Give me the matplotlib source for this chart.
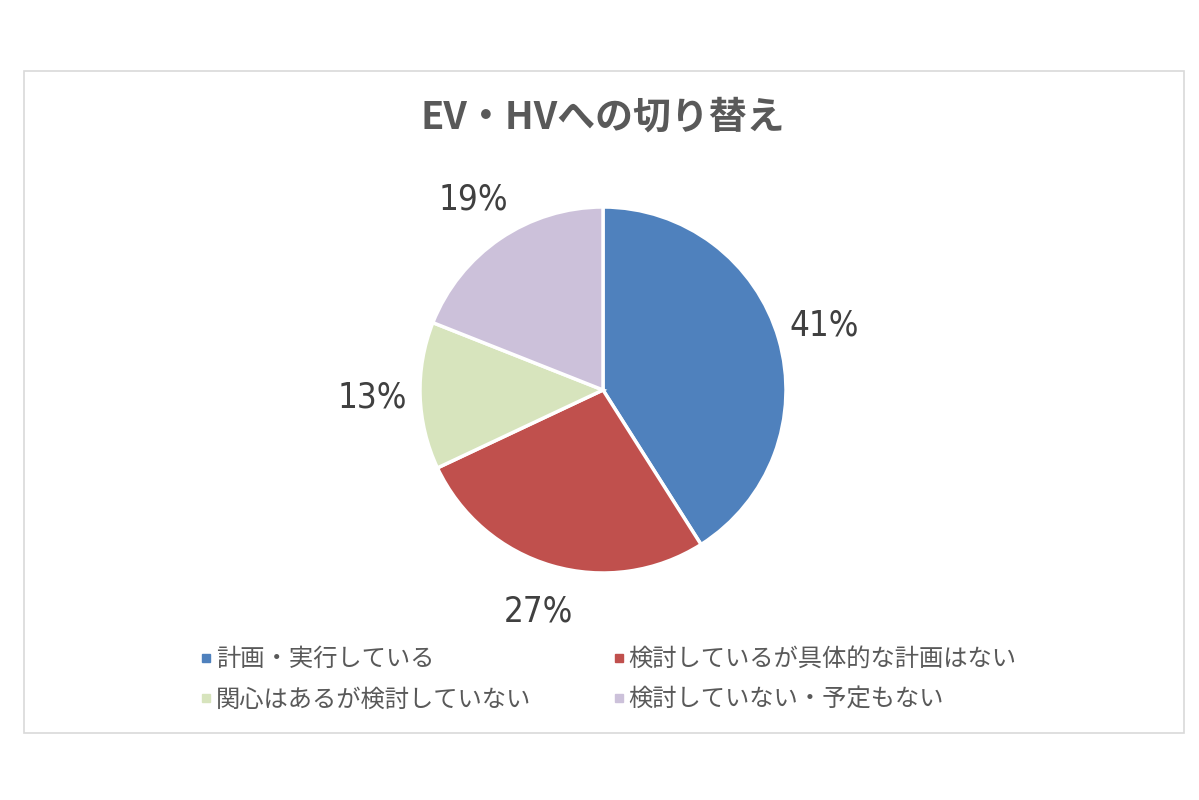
import matplotlib.pyplot as plt
from matplotlib.lines import Line2D
from matplotlib.patches import Rectangle

title = "EV・HVへの切り替え"
categories = ["計画・実行している", "検討しているが具体的な計画はない",
              "関心はあるが検討していない", "検討していない・予定もない"]
shares = [41, 27, 13, 19]
colors = ["#4F81BD", "#C0504D", "#D7E4BD", "#CCC1DA"]

plt.rcParams['font.family'] = ['Noto Sans CJK JP', 'DejaVu Sans']
txt = "#595959"

W, H = 1199, 800
fig = plt.figure(figsize=(W / 100, H / 100), dpi=100)
fig.patch.set_facecolor("white")

# outer chart frame
fig.patches.append(Rectangle((24 / W, 1 - 733 / H), 1160 / W, 662 / H,
                             transform=fig.transFigure, fill=False,
                             edgecolor="#D9D9D9", linewidth=1.2))

fig.text(603 / W, 1 - 117 / H, title, ha="center", va="center",
         fontsize=27.3, fontweight="bold", color=txt)

# pie
cx, cy, r = 603, 390, 183
half = 260
ax = fig.add_axes([(cx - half) / W, (H - cy - half) / H, 2 * half / W, 2 * half / H])
wedges, _, autotexts = ax.pie(shares, colors=colors, startangle=90, counterclock=False,
                              radius=1, autopct="%d%%", pctdistance=1.26,
                              wedgeprops=dict(edgecolor="white", linewidth=2.5))
for t in autotexts:
    t.set_fontfamily('DejaVu Sans')
    t.set_fontstretch('condensed')
    t.set_fontsize(25)
    t.set_color("#404040")
lim = half / r
ax.set_xlim(-lim, lim)
ax.set_ylim(-lim, lim)
ax.set_aspect("equal")
ax.axis("off")

# legend is filled row by row in the reference
order = [0, 2, 1, 3]
handles = [Line2D([], [], marker="s", linestyle="none", markersize=6,
                  markerfacecolor=colors[i], markeredgecolor=colors[i]) for i in order]
labels = [categories[i] for i in order]
leg = fig.legend(handles, labels, ncol=2, loc="upper left",
                 bbox_to_anchor=(187 / W, 1 - 634 / H), frameon=False,
                 fontsize=17.5, labelcolor=txt, handlelength=0.6, handletextpad=0.1,
                 columnspacing=3.3, labelspacing=0.6, borderpad=0)

fig.savefig("out.png", dpi=100, facecolor="white")
